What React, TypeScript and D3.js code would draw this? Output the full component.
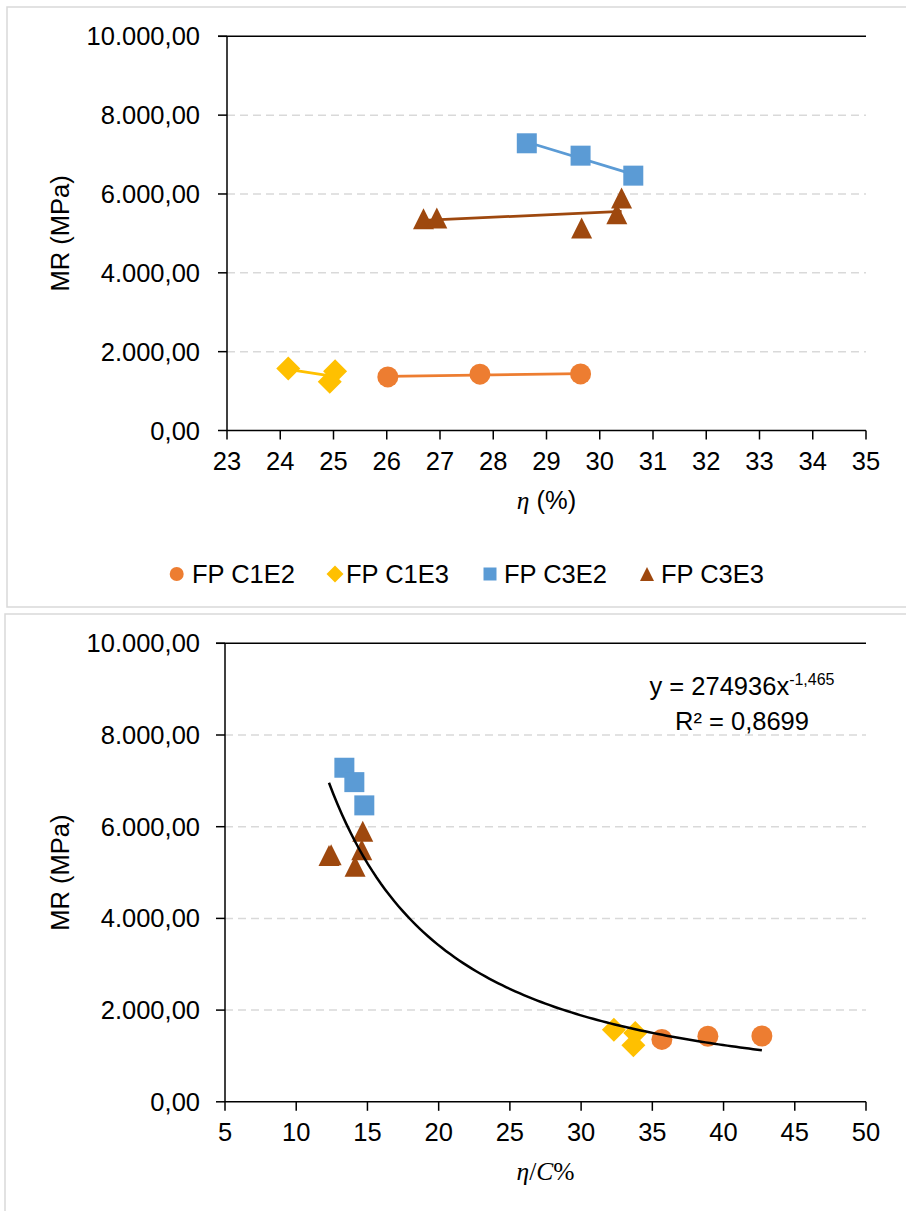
import React from "react";
import * as d3 from "d3";

// ---------- DATA ----------
const seriesNames = ["FP C1E2", "FP C1E3", "FP C3E2", "FP C3E3"];
const seriesColors = ["#ED7D31", "#FFC000", "#5B9BD5", "#9E480E"];
const seriesShapes = ["circle", "diamond", "square", "triangle"];

const etaC1E2 = [26.02, 27.75, 29.64];
const mrC1E2 = [1360, 1430, 1435];
const etaCC1E2 = [35.67, 38.9, 42.69];

const etaC1E3 = [24.15, 25.03, 24.93];
const mrC1E3 = [1570, 1500, 1235];
const etaCC1E3 = [32.3, 33.8, 33.67];

const etaC3E2 = [28.63, 29.64, 30.63];
const mrC3E2 = [7286, 6972, 6465];
const etaCC3E2 = [13.38, 14.08, 14.78];

const etaC3E3 = [26.69, 26.94, 29.66, 30.32, 30.41];
const mrC3E3 = [5370, 5390, 5140, 5500, 5900];
const etaCC3E3 = [12.3, 12.45, 14.13, 14.6, 14.67];

const topXTicks = [23, 24, 25, 26, 27, 28, 29, 30, 31, 32, 33, 34, 35];
const botXTicks = [5, 10, 15, 20, 25, 30, 35, 40, 45, 50];
const yTicks = [0, 2000, 4000, 6000, 8000, 10000];

const powerCoef = 274936;
const powerExp = -1.465;
const eqLine1 = "y = 274936x";
const eqSup = "-1,465";
const eqLine2 = "R² = 0,8699";

const etaAll = [etaC1E2, etaC1E3, etaC3E2, etaC3E3];
const etaCAll = [etaCC1E2, etaCC1E3, etaCC3E2, etaCC3E3];
const mrAll = [mrC1E2, mrC1E3, mrC3E2, mrC3E3];

// ---------- helpers ----------
const locale = d3.formatLocale({ decimal: ",", thousands: ".", grouping: [3], currency: ["", ""] });
const fmtY = locale.format(",.2f");
const FONT = "'Liberation Sans', Arial, sans-serif";
const MATH = "'Liberation Serif', 'DejaVu Serif', serif";

function markerPath(shape: string, cx: number, cy: number, s: number): string {
  const p = d3.path();
  if (shape === "circle") {
    p.arc(cx, cy, s / 2, 0, Math.PI * 2);
  } else if (shape === "diamond") {
    const h = s / 2 + 1.5;
    p.moveTo(cx, cy - h); p.lineTo(cx + h, cy); p.lineTo(cx, cy + h); p.lineTo(cx - h, cy); p.closePath();
  } else if (shape === "square") {
    const h = s / 2 - 0.5;
    p.rect(cx - h, cy - h, 2 * h, 2 * h);
  } else {
    const h = s / 2;
    p.moveTo(cx, cy - h); p.lineTo(cx + h, cy + h); p.lineTo(cx - h, cy + h); p.closePath();
  }
  return p.toString();
}

function linFit(xs: number[], ys: number[]) {
  const mx = d3.mean(xs)!, my = d3.mean(ys)!;
  let sxy = 0, sxx = 0;
  xs.forEach((x, i) => { sxy += (x - mx) * (ys[i] - my); sxx += (x - mx) ** 2; });
  const b = sxy / sxx;
  const a = my - b * mx;
  return (x: number) => a + b * x;
}

function Axes({ x, y, xTicks, left, right, bottom, top }: any) {
  return (
    <g>
      {yTicks.filter(t => t > 0 && t < 10000).map(t => (
        <line key={"g" + t} x1={left} x2={right} y1={y(t)} y2={y(t)} stroke="#d9d9d9" strokeWidth={1.5} strokeDasharray="8,5" />
      ))}
      <line x1={left - 9} x2={right} y1={top} y2={top} stroke="#000" strokeWidth={1.5} />
      <line x1={left} x2={left} y1={top} y2={bottom} stroke="#000" strokeWidth={1.5} />
      <line x1={left} x2={right} y1={bottom} y2={bottom} stroke="#000" strokeWidth={1.5} />
      {yTicks.map(t => (
        <g key={"y" + t}>
          <line x1={left - 9} x2={left} y1={y(t)} y2={y(t)} stroke="#000" strokeWidth={1.5} />
          <text x={200} y={y(t) + 9} textAnchor="end" fontSize={25.5} fontFamily={FONT} fill="#000">{fmtY(t)}</text>
        </g>
      ))}
      {xTicks.map((t: number) => (
        <g key={"x" + t}>
          <line x1={x(t)} x2={x(t)} y1={bottom} y2={bottom + 9} stroke="#000" strokeWidth={1.5} />
          <text x={x(t)} y={bottom + 39} textAnchor="middle" fontSize={25.5} fontFamily={FONT} fill="#000">{t}</text>
        </g>
      ))}
    </g>
  );
}

export default function App() {
  // top chart
  const tL = 227, tR = 866, tT = 36.3, tB = 430.5;
  const xT = d3.scaleLinear().domain([23, 35]).range([tL, tR]);
  const yT = d3.scaleLinear().domain([0, 10000]).range([tB, tT]);
  // bottom chart
  const bL = 225, bR = 866, bT = 643.3, bB = 1101.8;
  const xB = d3.scaleLinear().domain([5, 50]).range([bL, bR]);
  const yB = d3.scaleLinear().domain([0, 10000]).range([bB, bT]);

  const line = d3.line<[number, number]>();

  const allEtaC = etaCAll.flat();
  const pMin = d3.min(allEtaC)!, pMax = d3.max(allEtaC)!;
  const powerPts: [number, number][] = d3.range(0, 101).map(i => {
    const xv = pMin + (pMax - pMin) * i / 100;
    return [xB(xv), yB(powerCoef * Math.pow(xv, powerExp))];
  });

  const legendX = [176.7, 335, 490, 647];
  const legendTextX = [192, 346, 504, 661];
  const legendY = 574;

  return (
    <svg width={906} height={1211} style={{ position: "absolute", left: 0, top: 0, background: "#fff" }}>
      <rect x={0} y={0} width={906} height={1211} fill="#fff" />
      {/* panel borders */}
      <rect x={7} y={7} width={910} height={600} fill="none" stroke="#d9d9d9" strokeWidth={1.5} />
      <rect x={5} y={614} width={910} height={610} fill="none" stroke="#d9d9d9" strokeWidth={1.5} />

      {/* ---- TOP CHART ---- */}
      <Axes x={xT} y={yT} xTicks={topXTicks} left={tL} right={tR} bottom={tB} top={tT} />
      {etaAll.map((xs, si) => {
        const f = linFit(xs, mrAll[si]);
        const x0 = d3.min(xs)!, x1 = d3.max(xs)!;
        return (
          <path key={"tl" + si} d={line([[xT(x0), yT(f(x0))], [xT(x1), yT(f(x1))]])!} stroke={seriesColors[si]} strokeWidth={2.75} fill="none" />
        );
      })}
      {etaAll.map((xs, si) => xs.map((xv, i) => (
        <path key={"tm" + si + "-" + i} d={markerPath(seriesShapes[si], xT(xv), yT(mrAll[si][i]), 21)} fill={seriesColors[si]} />
      )))}
      <text x={(tL + tR) / 2} y={509} textAnchor="middle" fontSize={25.5} fill="#000">
        <tspan fontFamily={MATH} fontStyle="italic">η</tspan>
        <tspan fontFamily={FONT}> (%)</tspan>
      </text>
      <text transform={`translate(69,${(tT + tB) / 2}) rotate(-90)`} textAnchor="middle" fontSize={25.5} fontFamily={FONT} fill="#000">MR (MPa)</text>

      {/* legend */}
      {seriesNames.map((n, si) => (
        <g key={"lg" + si}>
          <path d={markerPath(seriesShapes[si], legendX[si], legendY, 14)} fill={seriesColors[si]} />
          <text x={legendTextX[si]} y={legendY + 9} fontSize={25.5} fontFamily={FONT} fill="#000">{n}</text>
        </g>
      ))}

      {/* ---- BOTTOM CHART ---- */}
      <Axes x={xB} y={yB} xTicks={botXTicks} left={bL} right={bR} bottom={bB} top={bT} />
      {etaCAll.map((xs, si) => xs.map((xv, i) => (
        <path key={"bm" + si + "-" + i} d={markerPath(seriesShapes[si], xB(xv), yB(mrAll[si][i]), 21)} fill={seriesColors[si]} />
      )))}
      <path d={line(powerPts)!} stroke="#000" strokeWidth={2.5} fill="none" />
      <text x={742} y={695} textAnchor="middle" fontSize={25.5} fontFamily={FONT} fill="#000">
        {eqLine1}<tspan fontSize={16} dy={-10}>{eqSup}</tspan>
      </text>
      <text x={742} y={730} textAnchor="middle" fontSize={25.5} fontFamily={FONT} fill="#000">{eqLine2}</text>
      <text x={(bL + bR) / 2} y={1180} textAnchor="middle" fontSize={25.5} fill="#000" fontFamily={MATH}>
        <tspan fontStyle="italic">η</tspan>
        <tspan>/</tspan>
        <tspan fontStyle="italic">C</tspan>
        <tspan>%</tspan>
      </text>
      <text transform={`translate(69,${(bT + bB) / 2}) rotate(-90)`} textAnchor="middle" fontSize={25.5} fontFamily={FONT} fill="#000">MR (MPa)</text>
    </svg>
  );
}
